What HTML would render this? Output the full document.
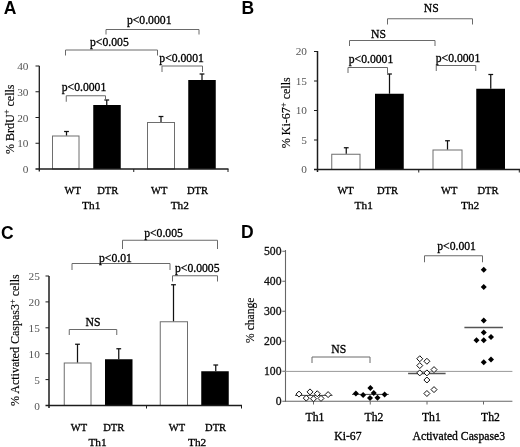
<!DOCTYPE html>
<html><head><meta charset="utf-8"><title>Figure</title>
<style>
html,body{margin:0;padding:0;background:#fff;}
body{width:520px;height:447px;overflow:hidden;}
svg{display:block;font-family:"Liberation Serif",serif;will-change:transform;}
</style></head>
<body>
<svg width="520" height="447" viewBox="0 0 520 447">
<rect x="0" y="0" width="520" height="447" fill="#fff"/>
<rect x="52.5" y="136.0" width="26.5" height="33.0" fill="#fff" stroke="#6e6e6e" stroke-width="1"/>
<rect x="93.25" y="105" width="27.5" height="64" fill="#000"/>
<rect x="147.5" y="122.5" width="27" height="46.5" fill="#fff" stroke="#6e6e6e" stroke-width="1"/>
<rect x="188.25" y="80" width="27.5" height="89" fill="#000"/>
<rect x="331.75" y="154.25" width="28.25" height="15.25" fill="#fff" stroke="#6e6e6e" stroke-width="1"/>
<rect x="375" y="93.75" width="28.75" height="75.75" fill="#000"/>
<rect x="433.0" y="150.0" width="29.0" height="19.5" fill="#fff" stroke="#6e6e6e" stroke-width="1"/>
<rect x="476.25" y="88.75" width="28.75" height="80.75" fill="#000"/>
<rect x="64.25" y="363.0" width="26.75" height="42.5" fill="#fff" stroke="#6e6e6e" stroke-width="1"/>
<rect x="105" y="359.25" width="27.5" height="46.25" fill="#000"/>
<rect x="160.25" y="321.75" width="27.25" height="83.75" fill="#fff" stroke="#6e6e6e" stroke-width="1"/>
<rect x="201.25" y="371.25" width="27.5" height="34.25" fill="#000"/>
<text x="3.8" y="14" font-family="Liberation Sans, sans-serif" font-weight="bold" font-size="17.5" fill="#000">A</text>
<line x1="39.3" y1="65.7" x2="39.3" y2="171.5" stroke="#1c1c1c" stroke-width="1.3"/>
<line x1="35.5" y1="169" x2="228.5" y2="169" stroke="#1c1c1c" stroke-width="1.4"/>
<line x1="35.5" y1="66.0" x2="39" y2="66.0" stroke="#1c1c1c" stroke-width="1"/>
<text x="28.5" y="70.0" font-size="11.3" text-anchor="end" fill="#555"  >40</text>
<line x1="35.5" y1="91.75" x2="39" y2="91.75" stroke="#1c1c1c" stroke-width="1"/>
<text x="28.5" y="95.75" font-size="11.3" text-anchor="end" fill="#555"  >30</text>
<line x1="35.5" y1="117.5" x2="39" y2="117.5" stroke="#1c1c1c" stroke-width="1"/>
<text x="28.5" y="121.5" font-size="11.3" text-anchor="end" fill="#555"  >20</text>
<line x1="35.5" y1="143.25" x2="39" y2="143.25" stroke="#1c1c1c" stroke-width="1"/>
<text x="28.5" y="147.25" font-size="11.3" text-anchor="end" fill="#555"  >10</text>
<text x="28.5" y="173.0" font-size="11.3" text-anchor="end" fill="#555"  >0</text>
<line x1="133.75" y1="169" x2="133.75" y2="172" stroke="#1c1c1c" stroke-width="1"/>
<line x1="228" y1="169" x2="228" y2="172" stroke="#1c1c1c" stroke-width="1"/>
<line x1="66.5" y1="131.5" x2="66.5" y2="135.5" stroke="#111" stroke-width="1.25"/>
<line x1="64.1" y1="131.5" x2="68.9" y2="131.5" stroke="#111" stroke-width="1.25"/>
<line x1="106.75" y1="100" x2="106.75" y2="105" stroke="#111" stroke-width="1.25"/>
<line x1="104.35" y1="100" x2="109.15" y2="100" stroke="#111" stroke-width="1.25"/>
<line x1="161" y1="116.5" x2="161" y2="122" stroke="#111" stroke-width="1.25"/>
<line x1="158.6" y1="116.5" x2="163.4" y2="116.5" stroke="#111" stroke-width="1.25"/>
<line x1="202" y1="74" x2="202" y2="80" stroke="#111" stroke-width="1.25"/>
<line x1="199.6" y1="74" x2="204.4" y2="74" stroke="#111" stroke-width="1.25"/>
<polyline points="66.25,101.75 66.25,95.75 105.5,95.75 105.5,100" fill="none" stroke="#6a6a6a" stroke-width="1"/>
<polyline points="65.5,55.5 65.5,50 157.5,50 157.5,55.5" fill="none" stroke="#6a6a6a" stroke-width="1"/>
<polyline points="106,34.5 106,29.5 199,29.5 199,34.5" fill="none" stroke="#6a6a6a" stroke-width="1"/>
<polyline points="162,72 162,66 202.5,66 202.5,72" fill="none" stroke="#6a6a6a" stroke-width="1"/>
<text x="84" y="91.25" font-size="11.7" text-anchor="middle" fill="#000" stroke="#000" stroke-width="0.3" >p&lt;0.0001</text>
<text x="90" y="46" font-size="11.7" text-anchor="start" fill="#000" stroke="#000" stroke-width="0.3" >p&lt;0.005</text>
<text x="171.5" y="23.7" font-size="11.7" text-anchor="end" fill="#000" stroke="#000" stroke-width="0.3" >p&lt;0.0001</text>
<text x="181.6" y="61.7" font-size="11.7" text-anchor="middle" fill="#000" stroke="#000" stroke-width="0.3" >p&lt;0.0001</text>
<text x="72.75" y="194.2" font-size="10.5" text-anchor="middle" fill="#000" stroke="#000" stroke-width="0.3" >WT</text>
<text x="107.75" y="194.2" font-size="10.5" text-anchor="middle" fill="#000" stroke="#000" stroke-width="0.3" >DTR</text>
<text x="159.25" y="194.2" font-size="10.5" text-anchor="middle" fill="#000" stroke="#000" stroke-width="0.3" >WT</text>
<text x="197.5" y="194.2" font-size="10.5" text-anchor="middle" fill="#000" stroke="#000" stroke-width="0.3" >DTR</text>
<text x="91.2" y="209.4" font-size="11.3" text-anchor="middle" fill="#000" stroke="#000" stroke-width="0.3" >Th1</text>
<text x="179.8" y="209.4" font-size="11.3" text-anchor="middle" fill="#000" stroke="#000" stroke-width="0.3" >Th2</text>
<text transform="translate(13.7,119.2) rotate(-90)" font-size="12.0" text-anchor="middle" fill="#000" stroke="#000" stroke-width="0.15">% BrdU<tspan font-size="8.5" dy="-4.5">+</tspan><tspan dy="4.5"> cells</tspan></text>
<text x="241.6" y="14.3" font-family="Liberation Sans, sans-serif" font-weight="bold" font-size="17.5" fill="#000">B</text>
<line x1="317.5" y1="51" x2="317.5" y2="172" stroke="#1c1c1c" stroke-width="1.5"/>
<line x1="314" y1="169.5" x2="520" y2="169.5" stroke="#1c1c1c" stroke-width="1.4"/>
<line x1="314" y1="51.5" x2="317.5" y2="51.5" stroke="#1c1c1c" stroke-width="1"/>
<text x="307" y="55.3" font-size="11.3" text-anchor="end" fill="#555"  >20</text>
<line x1="314" y1="81.0" x2="317.5" y2="81.0" stroke="#1c1c1c" stroke-width="1"/>
<text x="307" y="84.8" font-size="11.3" text-anchor="end" fill="#555"  >15</text>
<line x1="314" y1="110.5" x2="317.5" y2="110.5" stroke="#1c1c1c" stroke-width="1"/>
<text x="307" y="114.3" font-size="11.3" text-anchor="end" fill="#555"  >10</text>
<line x1="314" y1="140.0" x2="317.5" y2="140.0" stroke="#1c1c1c" stroke-width="1"/>
<text x="307" y="143.8" font-size="11.3" text-anchor="end" fill="#555"  >5</text>
<text x="307" y="173.3" font-size="11.3" text-anchor="end" fill="#555"  >0</text>
<line x1="418.75" y1="169.5" x2="418.75" y2="172.5" stroke="#1c1c1c" stroke-width="1"/>
<line x1="519.3" y1="169.5" x2="519.3" y2="172.5" stroke="#1c1c1c" stroke-width="1"/>
<line x1="346.25" y1="147.75" x2="346.25" y2="153.75" stroke="#111" stroke-width="1.25"/>
<line x1="343.85" y1="147.75" x2="348.65" y2="147.75" stroke="#111" stroke-width="1.25"/>
<line x1="389.5" y1="74" x2="389.5" y2="93.75" stroke="#111" stroke-width="1.25"/>
<line x1="387.1" y1="74" x2="391.9" y2="74" stroke="#111" stroke-width="1.25"/>
<line x1="447.5" y1="140.75" x2="447.5" y2="149.5" stroke="#111" stroke-width="1.25"/>
<line x1="445.1" y1="140.75" x2="449.9" y2="140.75" stroke="#111" stroke-width="1.25"/>
<line x1="490.75" y1="74.5" x2="490.75" y2="88.75" stroke="#111" stroke-width="1.25"/>
<line x1="488.35" y1="74.5" x2="493.15" y2="74.5" stroke="#111" stroke-width="1.25"/>
<polyline points="348,73 348,67.5 387.5,67.5 387.5,73" fill="none" stroke="#6a6a6a" stroke-width="1"/>
<polyline points="349.5,46 349.5,40.5 435,40.5 435,46" fill="none" stroke="#6a6a6a" stroke-width="1"/>
<polyline points="387.5,24.5 387.5,18.75 472.5,18.75 472.5,24.5" fill="none" stroke="#6a6a6a" stroke-width="1"/>
<polyline points="436.25,71 436.25,65.5 475.75,65.5 475.75,71" fill="none" stroke="#6a6a6a" stroke-width="1"/>
<text x="371" y="62.5" font-size="11.7" text-anchor="middle" fill="#000" stroke="#000" stroke-width="0.3" >p&lt;0.0001</text>
<text x="378.5" y="37.5" font-size="11.7" text-anchor="middle" fill="#000" stroke="#000" stroke-width="0.3" >NS</text>
<text x="431.25" y="11.75" font-size="11.7" text-anchor="middle" fill="#000" stroke="#000" stroke-width="0.3" >NS</text>
<text x="458" y="61.75" font-size="11.7" text-anchor="middle" fill="#000" stroke="#000" stroke-width="0.3" >p&lt;0.0001</text>
<text x="345.6" y="194.2" font-size="10.5" text-anchor="middle" fill="#000" stroke="#000" stroke-width="0.3" >WT</text>
<text x="387.5" y="194.2" font-size="10.5" text-anchor="middle" fill="#000" stroke="#000" stroke-width="0.3" >DTR</text>
<text x="449.25" y="194.2" font-size="10.5" text-anchor="middle" fill="#000" stroke="#000" stroke-width="0.3" >WT</text>
<text x="487.9" y="194.2" font-size="10.5" text-anchor="middle" fill="#000" stroke="#000" stroke-width="0.3" >DTR</text>
<text x="363.7" y="209.4" font-size="11.3" text-anchor="middle" fill="#000" stroke="#000" stroke-width="0.3" >Th1</text>
<text x="470.1" y="209.4" font-size="11.3" text-anchor="middle" fill="#000" stroke="#000" stroke-width="0.3" >Th2</text>
<text transform="translate(290,112.75) rotate(-90)" font-size="12.0" text-anchor="middle" fill="#000" stroke="#000" stroke-width="0.15">% Ki-67<tspan font-size="8.5" dy="-4.5">+</tspan><tspan dy="4.5"> cells</tspan></text>
<text x="1.0" y="238.5" font-family="Liberation Sans, sans-serif" font-weight="bold" font-size="17.5" fill="#000">C</text>
<line x1="49" y1="276" x2="49" y2="408" stroke="#1c1c1c" stroke-width="1.5"/>
<line x1="45.5" y1="405.5" x2="242" y2="405.5" stroke="#1c1c1c" stroke-width="1.4"/>
<line x1="45.5" y1="276.0" x2="49" y2="276.0" stroke="#1c1c1c" stroke-width="1"/>
<text x="39.8" y="280.0" font-size="11.3" text-anchor="end" fill="#555"  >25</text>
<line x1="45.5" y1="301.9" x2="49" y2="301.9" stroke="#1c1c1c" stroke-width="1"/>
<text x="39.8" y="305.9" font-size="11.3" text-anchor="end" fill="#555"  >20</text>
<line x1="45.5" y1="327.8" x2="49" y2="327.8" stroke="#1c1c1c" stroke-width="1"/>
<text x="39.8" y="331.8" font-size="11.3" text-anchor="end" fill="#555"  >15</text>
<line x1="45.5" y1="353.7" x2="49" y2="353.7" stroke="#1c1c1c" stroke-width="1"/>
<text x="39.8" y="357.7" font-size="11.3" text-anchor="end" fill="#555"  >10</text>
<line x1="45.5" y1="379.6" x2="49" y2="379.6" stroke="#1c1c1c" stroke-width="1"/>
<text x="39.8" y="383.6" font-size="11.3" text-anchor="end" fill="#555"  >5</text>
<text x="39.8" y="409.5" font-size="11.3" text-anchor="end" fill="#555"  >0</text>
<line x1="146.5" y1="405.5" x2="146.5" y2="408.5" stroke="#1c1c1c" stroke-width="1"/>
<line x1="241.5" y1="405.5" x2="241.5" y2="408.5" stroke="#1c1c1c" stroke-width="1"/>
<line x1="77.5" y1="344.25" x2="77.5" y2="362.5" stroke="#111" stroke-width="1.25"/>
<line x1="75.1" y1="344.25" x2="79.9" y2="344.25" stroke="#111" stroke-width="1.25"/>
<line x1="118.75" y1="348.75" x2="118.75" y2="359.25" stroke="#111" stroke-width="1.25"/>
<line x1="116.35" y1="348.75" x2="121.15" y2="348.75" stroke="#111" stroke-width="1.25"/>
<line x1="173.5" y1="284.75" x2="173.5" y2="321.25" stroke="#111" stroke-width="1.25"/>
<line x1="171.1" y1="284.75" x2="175.9" y2="284.75" stroke="#111" stroke-width="1.25"/>
<line x1="215.75" y1="365" x2="215.75" y2="371.25" stroke="#111" stroke-width="1.25"/>
<line x1="213.35" y1="365" x2="218.15" y2="365" stroke="#111" stroke-width="1.25"/>
<polyline points="69.25,335 69.25,329.5 116.75,329.5 116.75,335" fill="none" stroke="#6a6a6a" stroke-width="1"/>
<polyline points="72,270 72,263.5 170,263.5 170,270" fill="none" stroke="#6a6a6a" stroke-width="1"/>
<polyline points="122.5,249 122.5,240.25 217.5,240.25 217.5,249" fill="none" stroke="#6a6a6a" stroke-width="1"/>
<polyline points="172.5,281.5 172.5,275.75 217.5,275.75 217.5,281.5" fill="none" stroke="#6a6a6a" stroke-width="1"/>
<text x="93.1" y="326.25" font-size="11.7" text-anchor="middle" fill="#000" stroke="#000" stroke-width="0.3" >NS</text>
<text x="99" y="262" font-size="11.7" text-anchor="start" fill="#000" stroke="#000" stroke-width="0.3" >p&lt;0.01</text>
<text x="163.5" y="236.5" font-size="11.7" text-anchor="middle" fill="#000" stroke="#000" stroke-width="0.3" >p&lt;0.005</text>
<text x="197.25" y="272" font-size="11.7" text-anchor="middle" fill="#000" stroke="#000" stroke-width="0.3" >p&lt;0.0005</text>
<text x="78.9" y="430.75" font-size="10.5" text-anchor="middle" fill="#000" stroke="#000" stroke-width="0.3" >WT</text>
<text x="113.75" y="430.75" font-size="10.5" text-anchor="middle" fill="#000" stroke="#000" stroke-width="0.3" >DTR</text>
<text x="176.9" y="430.75" font-size="10.5" text-anchor="middle" fill="#000" stroke="#000" stroke-width="0.3" >WT</text>
<text x="215.6" y="430.75" font-size="10.5" text-anchor="middle" fill="#000" stroke="#000" stroke-width="0.3" >DTR</text>
<text x="97.5" y="445.75" font-size="11.3" text-anchor="middle" fill="#000" stroke="#000" stroke-width="0.3" >Th1</text>
<text x="197.1" y="445.75" font-size="11.3" text-anchor="middle" fill="#000" stroke="#000" stroke-width="0.3" >Th2</text>
<text transform="translate(19,340.2) rotate(-90)" font-size="12.0" text-anchor="middle" fill="#000" stroke="#000" stroke-width="0.15">% Activated Caspas3<tspan font-size="8.5" dy="-4.5">+</tspan><tspan dy="4.5"> cells</tspan></text>
<text x="241.0" y="238.1" font-family="Liberation Sans, sans-serif" font-weight="bold" font-size="17.5" fill="#000">D</text>
<line x1="285.5" y1="250" x2="285.5" y2="401.75" stroke="#666" stroke-width="1.1"/>
<line x1="285" y1="401.25" x2="512.4" y2="401.25" stroke="#666" stroke-width="1.1"/>
<line x1="285" y1="371.4" x2="512.4" y2="371.4" stroke="#999" stroke-width="1"/>
<line x1="282.3" y1="251.25" x2="285.5" y2="251.25" stroke="#666" stroke-width="1"/>
<text x="281.5" y="255.25" font-size="11.7" text-anchor="end" fill="#111" stroke="#111" stroke-width="0.3" >500</text>
<line x1="282.3" y1="281.25" x2="285.5" y2="281.25" stroke="#666" stroke-width="1"/>
<text x="281.5" y="285.25" font-size="11.7" text-anchor="end" fill="#111" stroke="#111" stroke-width="0.3" >400</text>
<line x1="282.3" y1="311.25" x2="285.5" y2="311.25" stroke="#666" stroke-width="1"/>
<text x="281.5" y="315.25" font-size="11.7" text-anchor="end" fill="#111" stroke="#111" stroke-width="0.3" >300</text>
<line x1="282.3" y1="341.25" x2="285.5" y2="341.25" stroke="#666" stroke-width="1"/>
<text x="281.5" y="345.25" font-size="11.7" text-anchor="end" fill="#111" stroke="#111" stroke-width="0.3" >200</text>
<line x1="282.3" y1="371.25" x2="285.5" y2="371.25" stroke="#666" stroke-width="1"/>
<text x="281.5" y="375.25" font-size="11.7" text-anchor="end" fill="#111" stroke="#111" stroke-width="0.3" >100</text>
<line x1="282.3" y1="401.25" x2="285.5" y2="401.25" stroke="#666" stroke-width="1"/>
<text x="281.5" y="405.25" font-size="11.7" text-anchor="end" fill="#111" stroke="#111" stroke-width="0.3" >0</text>
<line x1="313.5" y1="401.25" x2="313.5" y2="404.5" stroke="#666" stroke-width="1"/>
<line x1="370.25" y1="401.25" x2="370.25" y2="404.5" stroke="#666" stroke-width="1"/>
<line x1="427" y1="401.25" x2="427" y2="404.5" stroke="#666" stroke-width="1"/>
<line x1="483.5" y1="401.25" x2="483.5" y2="404.5" stroke="#666" stroke-width="1"/>
<text x="315" y="420.5" font-size="11.7" text-anchor="middle" fill="#000" stroke="#000" stroke-width="0.3" >Th1</text>
<text x="374" y="420.5" font-size="11.7" text-anchor="middle" fill="#000" stroke="#000" stroke-width="0.3" >Th2</text>
<text x="431.4" y="420.5" font-size="11.7" text-anchor="middle" fill="#000" stroke="#000" stroke-width="0.3" >Th1</text>
<text x="490.5" y="420.5" font-size="11.7" text-anchor="middle" fill="#000" stroke="#000" stroke-width="0.3" >Th2</text>
<text x="347.9" y="439.5" font-size="11.7" text-anchor="middle" fill="#000" stroke="#000" stroke-width="0.3" >Ki-67</text>
<text x="458.75" y="440" font-size="11.7" text-anchor="middle" fill="#000" stroke="#000" stroke-width="0.3" >Activated Caspase3</text>
<polyline points="312,363 312,357 370,357 370,363" fill="none" stroke="#6a6a6a" stroke-width="1"/>
<text x="338.75" y="353.25" font-size="11.7" text-anchor="middle" fill="#000" stroke="#000" stroke-width="0.3" >NS</text>
<polyline points="424.5,262.25 424.5,255.75 482.5,255.75 482.5,262.25" fill="none" stroke="#6a6a6a" stroke-width="1"/>
<text x="456.6" y="249.5" font-size="11.7" text-anchor="middle" fill="#000" stroke="#000" stroke-width="0.3" >p&lt;0.001</text>
<text transform="translate(253.6,320.2) rotate(-90)" font-size="11.6" text-anchor="middle" fill="#000" stroke="#000" stroke-width="0.15">% change</text>
<line x1="295" y1="395.4" x2="332.5" y2="395.4" stroke="#444" stroke-width="1"/>
<line x1="352" y1="394.4" x2="388.75" y2="394.4" stroke="#444" stroke-width="1"/>
<line x1="408.1" y1="373.6" x2="445.6" y2="373.6" stroke="#555" stroke-width="1.5"/>
<line x1="464.4" y1="327.5" x2="502.9" y2="327.5" stroke="#555" stroke-width="1.3"/>
<polygon points="299,391.1 302.0,394.1 299,397.1 296.0,394.1" fill="#fff" stroke="#111" stroke-width="1"/>
<polygon points="306.25,395.1 309.25,398.1 306.25,401.1 303.25,398.1" fill="#fff" stroke="#111" stroke-width="1"/>
<polygon points="310,388.9 313.0,391.9 310,394.9 307.0,391.9" fill="#fff" stroke="#111" stroke-width="1"/>
<polygon points="313.5,395.75 316.5,398.75 313.5,401.75 310.5,398.75" fill="#fff" stroke="#111" stroke-width="1"/>
<polygon points="317.25,390.75 320.25,393.75 317.25,396.75 314.25,393.75" fill="#fff" stroke="#111" stroke-width="1"/>
<polygon points="321,395.4 324.0,398.4 321,401.4 318.0,398.4" fill="#fff" stroke="#111" stroke-width="1"/>
<polygon points="328.1,391.6 331.1,394.6 328.1,397.6 325.1,394.6" fill="#fff" stroke="#111" stroke-width="1"/>
<polygon points="355.9,390.4 358.9,393.4 355.9,396.4 352.9,393.4" fill="#000"/>
<polygon points="363.1,392.0 366.1,395 363.1,398.0 360.1,395" fill="#000"/>
<polygon points="370.4,385.1 373.4,388.1 370.4,391.1 367.4,388.1" fill="#000"/>
<polygon points="370,395.1 373.0,398.1 370,401.1 367.0,398.1" fill="#000"/>
<polygon points="373.75,390.1 376.75,393.1 373.75,396.1 370.75,393.1" fill="#000"/>
<polygon points="377.5,394.75 380.5,397.75 377.5,400.75 374.5,397.75" fill="#000"/>
<polygon points="384.6,391.4 387.6,394.4 384.6,397.4 381.6,394.4" fill="#000"/>
<polygon points="419.75,355.75 422.75,358.75 419.75,361.75 416.75,358.75" fill="#fff" stroke="#111" stroke-width="1"/>
<polygon points="426.9,358.25 429.9,361.25 426.9,364.25 423.9,361.25" fill="#fff" stroke="#111" stroke-width="1"/>
<polygon points="419.75,362.6 422.75,365.6 419.75,368.6 416.75,365.6" fill="#fff" stroke="#111" stroke-width="1"/>
<polygon points="434,366.6 437.0,369.6 434,372.6 431.0,369.6" fill="#fff" stroke="#111" stroke-width="1"/>
<polygon points="419.75,369.9 422.75,372.9 419.75,375.9 416.75,372.9" fill="#fff" stroke="#111" stroke-width="1"/>
<polygon points="426.9,369.9 429.9,372.9 426.9,375.9 423.9,372.9" fill="#fff" stroke="#111" stroke-width="1"/>
<polygon points="426.9,377.0 429.9,380 426.9,383.0 423.9,380" fill="#fff" stroke="#111" stroke-width="1"/>
<polygon points="434,386.6 437.0,389.6 434,392.6 431.0,389.6" fill="#fff" stroke="#111" stroke-width="1"/>
<polygon points="426.9,390.5 429.9,393.5 426.9,396.5 423.9,393.5" fill="#fff" stroke="#111" stroke-width="1"/>
<polygon points="483.75,266.75 486.75,269.75 483.75,272.75 480.75,269.75" fill="#000"/>
<polygon points="483.75,284.0 486.75,287 483.75,290.0 480.75,287" fill="#000"/>
<polygon points="483.75,317.4 486.75,320.4 483.75,323.4 480.75,320.4" fill="#000"/>
<polygon points="483.75,329.5 486.75,332.5 483.75,335.5 480.75,332.5" fill="#000"/>
<polygon points="491,333.9 494.0,336.9 491,339.9 488.0,336.9" fill="#000"/>
<polygon points="476.5,337.25 479.5,340.25 476.5,343.25 473.5,340.25" fill="#000"/>
<polygon points="483.75,337.25 486.75,340.25 483.75,343.25 480.75,340.25" fill="#000"/>
<polygon points="491,356.6 494.0,359.6 491,362.6 488.0,359.6" fill="#000"/>
<polygon points="483.75,359.25 486.75,362.25 483.75,365.25 480.75,362.25" fill="#000"/>
</svg>
</body></html>
